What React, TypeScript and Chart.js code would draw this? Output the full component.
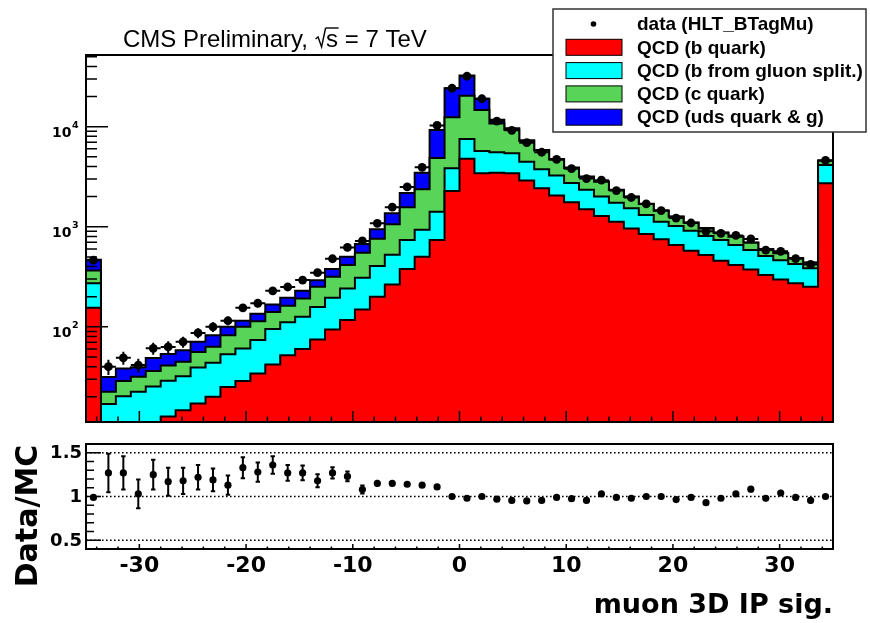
import React, { useEffect, useRef } from "react";
import { Chart, registerables } from "chart.js";

Chart.register(...registerables);

// Binning: 50 bins of width 1.4 spanning [-35, 35]
const X_MIN = -35;
const X_MAX = 35;
const BIN_WIDTH = 1.4;

// Log axis range of the upper pad, linear range of the ratio pad
const Y_MIN = 11.2;
const Y_MAX = 52000;
const RATIO_MIN = 0.4;
const RATIO_MAX = 1.6;

// Simulated QCD contributions per bin
const bQuark = [155, 8, 9, 10, 10.5, 12.7, 14.7, 17.1, 20, 25.1, 28.8, 34.2, 42, 52, 60, 74.8, 94, 117, 149, 200, 265, 378, 501, 736, 2275, 4790, 3420, 3467, 3420, 2900, 2421, 2050, 1754, 1492, 1279, 1122, 963, 846, 748, 656, 576, 521, 457, 414, 375, 329, 298, 272, 251, 2716];
const bGluonSplit = [117, 8.9, 11.3, 12.4, 14.8, 16.3, 17.4, 22.2, 23.7, 28.2, 32, 39.8, 53, 59, 66, 83, 101, 125, 161, 206, 260, 358, 434, 677, 1562, 2744, 2295, 2079, 2000, 1567, 1339, 1200, 981, 853, 731, 616, 564, 463, 374, 360, 336, 286, 279, 242, 210, 180, 166, 152, 133, 1424];
const cQuark = [93, 5.5, 8.5, 9.4, 10.9, 12, 12.6, 16.9, 19.4, 29.3, 39.2, 40, 46, 51, 66, 93, 121, 172, 240, 354, 532, 834, 1431, 3447, 8563, 12816, 8935, 5204, 3880, 2733, 2020, 1450, 1125, 795, 808, 590, 468, 378, 323, 243, 184, 156, 135, 138, 107, 85, 78, 59, 53, 431];
const udsGluon = [103, 9.2, 9.5, 7.7, 12.6, 12.6, 13.8, 14.6, 19.5, 17.4, 15, 21, 26, 33, 37, 42, 62, 87, 121, 182, 304, 600, 1101, 4408, 11800, 12150, 4350, 950, 340, 100, 70, 60, 40, 30, 22, 17, 15, 13, 10, 9, 8, 7, 6, 6, 5, 4, 4, 3, 3, 29];

// Observed events and their uncertainties
const dataCounts = [464, 40, 49, 41.5, 61, 63, 70.8, 87, 100, 115, 155, 172, 229, 250, 293, 348, 479, 622, 722, 1081, 1570, 2500, 3926, 10300, 24200, 31900, 19000, 11350, 9200, 6920, 5550, 4710, 3800, 3030, 2920, 2300, 1960, 1690, 1450, 1220, 1090, 900, 860, 820, 755, 585, 568, 481, 420, 4600];
const dataErrors = [14, 7, 7.3, 6.6, 8.3, 8.6, 9, 10, 11, 11, 14, 15, 17, 18, 20, 22, 25, 29, 31, 38, 48, 66, 87, 185, 240, 320, 190, 115, 92, 70, 60, 55, 48, 42, 45, 37, 34, 31, 29, 27, 26, 23, 22, 22, 21, 18, 18, 16, 15, 50];

// Data / MC ratio per bin
const ratioValues = [0.99, 1.27, 1.27, 1.03, 1.25, 1.17, 1.18, 1.22, 1.19, 1.13, 1.33, 1.28, 1.36, 1.27, 1.27, 1.18, 1.27, 1.23, 1.08, 1.15, 1.15, 1.14, 1.13, 1.11, 1.0, 0.98, 1.0, 0.97, 0.955, 0.95, 0.955, 0.99, 0.975, 0.955, 1.03, 0.99, 0.98, 1.0, 1.0, 0.965, 0.99, 0.93, 0.98, 1.03, 1.084, 0.98, 1.04, 0.99, 0.955, 1.0];
const ratioErrors = [0.03, 0.22, 0.19, 0.165, 0.17, 0.16, 0.15, 0.14, 0.13, 0.11, 0.12, 0.11, 0.1, 0.09, 0.085, 0.074, 0.065, 0.057, 0.047, 0.04, 0.035, 0.03, 0.025, 0.02, 0.012, 0.012, 0.012, 0.013, 0.014, 0.015, 0.016, 0.017, 0.018, 0.02, 0.021, 0.022, 0.024, 0.025, 0.026, 0.028, 0.03, 0.03, 0.032, 0.033, 0.035, 0.035, 0.036, 0.038, 0.04, 0.015];

// Axis labels
const xTickLabels = [-30, -20, -10, 0, 10, 20, 30];
const logDecadeLabels = [2, 3, 4];
const ratioTickLabels = [0.5, 1, 1.5];
const ratioTickText = ["0.5", "1", "1.5"];

const titleParts = ["CMS Preliminary, ", "s", " = 7 TeV"];
const legendLabels = ["data (HLT_BTagMu)", "QCD (b quark)", "QCD (b from gluon split.)", "QCD (c quark)", "QCD (uds quark & g)"];
const stackColors = ["#ff0000", "#00ffff", "#58d558", "#0000ff"];
const xAxisTitle = "muon 3D IP sig.";
const ratioAxisTitle = "Data/MC";

const N = bQuark.length;
const edges = Array.from({ length: N + 1 }, (_, i) => X_MIN + i * BIN_WIDTH);
const centers = Array.from({ length: N }, (_, i) => X_MIN + (i + 0.5) * BIN_WIDTH);

// Stacked totals, from the bottom component upwards
const components = [bQuark, bGluonSplit, cQuark, udsGluon];
const stackTotals: number[][] = [];
{
  let run = new Array(N).fill(0);
  for (const comp of components) {
    run = run.map((v: number, i: number) => v + comp[i]);
    stackTotals.push(run);
  }
}

const stepPoints = (values: number[]) =>
  edges.map((x, i) => ({ x, y: values[Math.min(i, N - 1)] }));

const AXIS_FONT = "'DejaVu Sans', sans-serif";
const TEXT_FONT = "'Liberation Sans', Arial, sans-serif";

const mainDecor = {
  id: "mainDecor",
  afterDatasetsDraw(chart: any) {
    const { ctx, chartArea: a, scales } = chart;
    const xs = scales.x;
    const ys = scales.y;
    ctx.save();
    ctx.beginPath();
    ctx.rect(a.left, a.top, a.right - a.left, a.bottom - a.top);
    ctx.clip();
    ctx.strokeStyle = "#000";
    ctx.lineWidth = 2;
    for (let i = 0; i < N; i++) {
      const py = ys.getPixelForValue(dataCounts[i]);
      const px = xs.getPixelForValue(centers[i]);
      ctx.beginPath();
      ctx.moveTo(xs.getPixelForValue(edges[i]), py);
      ctx.lineTo(xs.getPixelForValue(edges[i + 1]), py);
      ctx.moveTo(px, ys.getPixelForValue(dataCounts[i] - dataErrors[i]));
      ctx.lineTo(px, ys.getPixelForValue(dataCounts[i] + dataErrors[i]));
      ctx.stroke();
    }
    ctx.restore();
  },
  afterDraw(chart: any) {
    const { ctx, chartArea: a, scales } = chart;
    const xs = scales.x;
    const ys = scales.y;
    ctx.save();
    ctx.strokeStyle = "#000";
    ctx.fillStyle = "#000";

    // frame
    ctx.lineWidth = 2;
    ctx.strokeRect(a.left, a.top, a.right - a.left, a.bottom - a.top);

    // x ticks along the bottom edge
    ctx.lineWidth = 1.5;
    ctx.beginPath();
    for (let v = -34; v <= 34; v += 2) {
      const px = xs.getPixelForValue(v);
      const len = v % 10 === 0 ? 11 : 5.5;
      ctx.moveTo(px, a.bottom);
      ctx.lineTo(px, a.bottom - len);
    }
    // log y ticks along the left edge
    for (let e = 1; e <= 4; e++) {
      for (let k = 1; k <= 9; k++) {
        const v = k * Math.pow(10, e);
        if (v < Y_MIN || v > Y_MAX) continue;
        const py = ys.getPixelForValue(v);
        const len = k === 1 ? 22 : 11;
        ctx.moveTo(a.left, py);
        ctx.lineTo(a.left + len, py);
      }
    }
    ctx.stroke();

    // decade labels 10^n
    ctx.textBaseline = "alphabetic";
    for (const e of logDecadeLabels) {
      const py = ys.getPixelForValue(Math.pow(10, e));
      ctx.font = `bold 14px ${AXIS_FONT}`;
      ctx.textAlign = "right";
      ctx.fillText("10", 71.5, py + 10);
      ctx.font = `bold 9.5px ${AXIS_FONT}`;
      ctx.textAlign = "left";
      ctx.fillText(String(e), 72, py + 1.5);
    }

    // title with sqrt(s)
    ctx.font = `24px ${TEXT_FONT}`;
    ctx.textAlign = "left";
    let tx = 123;
    const ty = 47;
    ctx.fillText(titleParts[0], tx, ty);
    tx += ctx.measureText(titleParts[0]).width;
    // radical sign
    ctx.lineWidth = 1.4;
    ctx.beginPath();
    ctx.moveTo(tx + 1, ty - 8);
    ctx.lineTo(tx + 3.5, ty - 10);
    ctx.lineTo(tx + 7, ty);
    ctx.lineTo(tx + 11, ty - 19);
    ctx.stroke();
    const sx = tx + 11;
    const sw = ctx.measureText(titleParts[1]).width;
    ctx.beginPath();
    ctx.moveTo(sx, ty - 19);
    ctx.lineTo(sx + sw + 1, ty - 19);
    ctx.stroke();
    ctx.fillText(titleParts[1], sx + 0.5, ty);
    ctx.fillText(titleParts[2], sx + sw + 0.5, ty);

    // legend
    const lx = 553, ly = 9, lw = 313, lh = 123;
    ctx.fillStyle = "#fff";
    ctx.fillRect(lx, ly, lw, lh);
    ctx.strokeStyle = "#333";
    ctx.lineWidth = 1.5;
    ctx.strokeRect(lx, ly, lw, lh);
    const rows = [24, 47.3, 70.6, 93.9, 117.2];
    ctx.font = `bold 19px ${TEXT_FONT}`;
    ctx.textBaseline = "middle";
    ctx.textAlign = "left";
    legendLabels.forEach((label, i) => {
      const ry = rows[i];
      if (i === 0) {
        ctx.fillStyle = "#000";
        ctx.beginPath();
        ctx.arc(593.5, ry, 2.8, 0, Math.PI * 2);
        ctx.fill();
      } else {
        ctx.fillStyle = stackColors[i - 1];
        ctx.fillRect(566, ry - 8, 56, 16);
        ctx.strokeStyle = "#000";
        ctx.lineWidth = 1;
        ctx.strokeRect(566, ry - 8, 56, 16);
      }
      ctx.fillStyle = "#000";
      ctx.fillText(label, 637, ry + 1);
    });
    ctx.restore();
  },
};

const ratioDecor = {
  id: "ratioDecor",
  beforeDatasetsDraw(chart: any) {
    const { ctx, chartArea: a, scales } = chart;
    ctx.save();
    ctx.strokeStyle = "#000";
    ctx.lineWidth = 1.6;
    ctx.setLineDash([1.6, 2.4]);
    for (const v of ratioTickLabels) {
      const py = scales.y.getPixelForValue(v);
      ctx.beginPath();
      ctx.moveTo(a.left, py);
      ctx.lineTo(a.right, py);
      ctx.stroke();
    }
    ctx.restore();
  },
  afterDatasetsDraw(chart: any) {
    const { ctx, scales } = chart;
    ctx.save();
    ctx.strokeStyle = "#000";
    ctx.lineWidth = 2;
    for (let i = 0; i < N; i++) {
      const px = scales.x.getPixelForValue(centers[i]);
      const lo = scales.y.getPixelForValue(ratioValues[i] - ratioErrors[i]);
      const hi = scales.y.getPixelForValue(ratioValues[i] + ratioErrors[i]);
      ctx.beginPath();
      ctx.moveTo(px, lo);
      ctx.lineTo(px, hi);
      if (lo - hi > 8) {
        ctx.moveTo(px - 2.2, lo);
        ctx.lineTo(px + 2.2, lo);
        ctx.moveTo(px - 2.2, hi);
        ctx.lineTo(px + 2.2, hi);
      }
      ctx.stroke();
    }
    ctx.restore();
  },
  afterDraw(chart: any) {
    const { ctx, chartArea: a, scales } = chart;
    const xs = scales.x;
    const ys = scales.y;
    ctx.save();
    ctx.strokeStyle = "#000";
    ctx.fillStyle = "#000";
    ctx.lineWidth = 2;
    ctx.strokeRect(a.left, a.top, a.right - a.left, a.bottom - a.top);

    ctx.lineWidth = 1.5;
    ctx.beginPath();
    for (let v = -34; v <= 34; v += 2) {
      const px = xs.getPixelForValue(v);
      const len = v % 10 === 0 ? 5 : 2.5;
      ctx.moveTo(px, a.bottom);
      ctx.lineTo(px, a.bottom - len);
    }
    for (let k = 5; k <= 15; k++) {
      const py = ys.getPixelForValue(k / 10);
      const len = k % 5 === 0 ? 15 : 8;
      ctx.moveTo(a.left, py);
      ctx.lineTo(a.left + len, py);
    }
    ctx.stroke();

    // x tick labels
    ctx.font = `bold 22px ${AXIS_FONT}`;
    ctx.textAlign = "center";
    ctx.textBaseline = "alphabetic";
    for (const v of xTickLabels) {
      ctx.fillText(String(v), xs.getPixelForValue(v), 142);
    }
    // y tick labels
    ctx.font = `bold 18px ${AXIS_FONT}`;
    ctx.textAlign = "right";
    ctx.textBaseline = "middle";
    ratioTickLabels.forEach((v, i) => {
      ctx.fillText(ratioTickText[i], 82, ys.getPixelForValue(v) + 1);
    });

    // axis titles
    ctx.font = `bold 27px ${AXIS_FONT}`;
    ctx.textAlign = "right";
    ctx.textBaseline = "alphabetic";
    ctx.fillText(xAxisTitle, a.right, 183);

    ctx.save();
    ctx.translate(37, 86);
    ctx.rotate(-Math.PI / 2);
    ctx.font = `bold 30px ${AXIS_FONT}`;
    ctx.textAlign = "center";
    ctx.fillText(ratioAxisTitle, 0, 0);
    ctx.restore();

    ctx.restore();
  },
};

export default function App() {
  const mainRef = useRef<HTMLCanvasElement>(null);
  const ratioRef = useRef<HTMLCanvasElement>(null);

  useEffect(() => {
    const stackDatasets = stackTotals.map((tot, k) => ({
      data: stepPoints(tot),
      stepped: "before" as const,
      fill: "start",
      backgroundColor: stackColors[k],
      borderColor: "#000",
      borderWidth: 2,
      pointRadius: 0,
      clip: 0,
    }));

    const main = new Chart(mainRef.current!, {
      type: "line",
      data: {
        datasets: [
          {
            data: centers.map((x, i) => ({ x, y: dataCounts[i] })),
            showLine: false,
            pointRadius: 4.4,
            pointBorderWidth: 0,
            pointBackgroundColor: "#000",
            borderColor: "#000",
            fill: false,
            clip: 6,
          },
          ...stackDatasets,
        ] as any,
      },
      options: {
        responsive: false,
        animation: false,
        devicePixelRatio: 1,
        events: [],
        layout: { padding: { left: 86, right: 37, top: 55, bottom: 18 } },
        plugins: { legend: { display: false }, tooltip: { enabled: false } },
        scales: {
          x: { type: "linear", min: X_MIN, max: X_MAX, display: false, bounds: "data" },
          y: { type: "logarithmic", min: Y_MIN, max: Y_MAX, display: false, bounds: "data" },
        },
      },
      plugins: [mainDecor],
    } as any);

    const ratio = new Chart(ratioRef.current!, {
      type: "line",
      data: {
        datasets: [
          {
            data: centers.map((x, i) => ({ x, y: ratioValues[i] })),
            showLine: false,
            pointRadius: 3.6,
            pointBorderWidth: 0,
            pointBackgroundColor: "#000",
            borderColor: "#000",
            fill: false,
          },
        ],
      },
      options: {
        responsive: false,
        animation: false,
        devicePixelRatio: 1,
        events: [],
        layout: { padding: { left: 86, right: 37, top: 14, bottom: 74 } },
        plugins: { legend: { display: false }, tooltip: { enabled: false } },
        scales: {
          x: { type: "linear", min: X_MIN, max: X_MAX, display: false, bounds: "data" },
          y: { type: "linear", min: RATIO_MIN, max: RATIO_MAX, display: false, bounds: "data" },
        },
      },
      plugins: [ratioDecor],
    } as any);

    return () => {
      main.destroy();
      ratio.destroy();
    };
  }, []);

  return (
    <div style={{ position: "fixed", left: 0, top: 0, width: 870, height: 623, background: "#fff" }}>
      <canvas ref={mainRef} width={870} height={440} style={{ position: "absolute", left: 0, top: 0, width: 870, height: 440 }} />
      <canvas ref={ratioRef} width={870} height={193} style={{ position: "absolute", left: 0, top: 430, width: 870, height: 193 }} />
    </div>
  );
}
